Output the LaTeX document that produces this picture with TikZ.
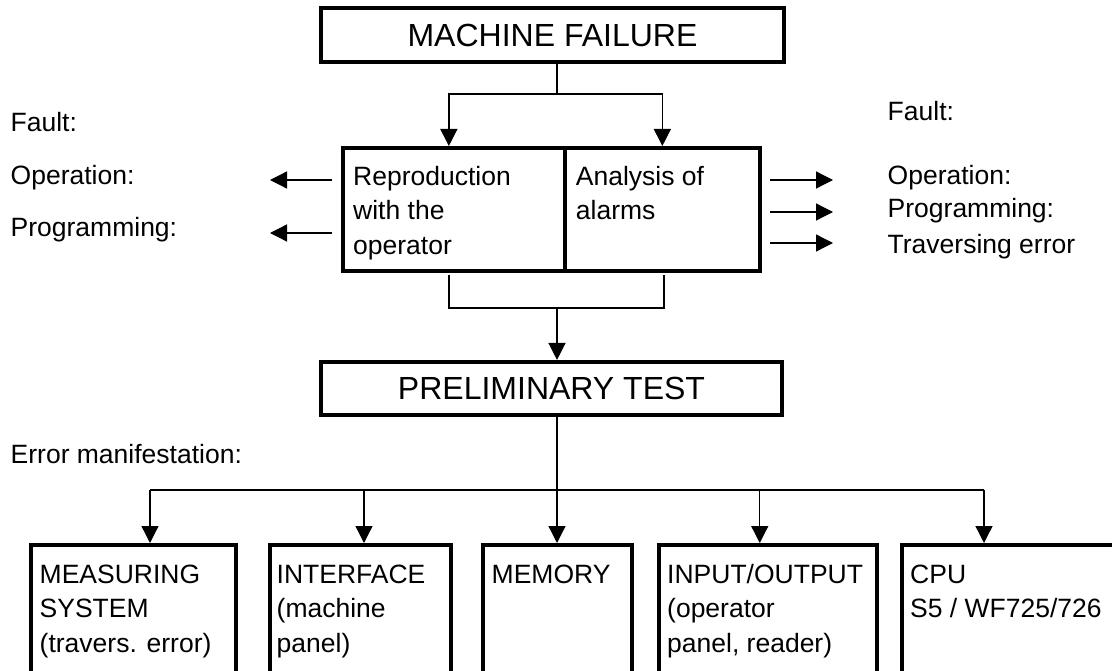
\documentclass[tikz,border=0pt]{standalone}
\usepackage{fontspec}
\setmainfont{Liberation Sans}
\usetikzlibrary{arrows.meta,positioning}
\tikzset{
  heading/.style={draw, line width=4pt, minimum width=463pt, minimum height=54pt, inner sep=0pt, font=\fontsize{32}{38}\selectfont},
  frame/.style={draw, line width=4pt, inner sep=0pt},
  boxtext/.style={anchor=north west, align=left, inner sep=0pt, font=\fontsize{26.5}{34.5}\selectfont},
  note/.style={anchor=base west, inner sep=0pt, font=\fontsize{26.5}{34.5}\selectfont},
  link/.style={line width=1.3pt},
  arrow/.style={link, -{Triangle[length=17pt, width=17pt]}}
}
\newcommand{\capstrut}{\rule{0pt}{20pt}}

\begin{document}
\begin{tikzpicture}[x=1pt, y=-1pt]
\useasboundingbox (0,0) rectangle (1112,671);
\clip (0,0) rectangle (1112,671);
\node[heading] (fail) at (552.5,35) {MACHINE FAILURE};
\node[frame, minimum width=221.7pt, minimum height=123.3pt] (repro) at (453.85,209.65) {};
\node[frame, minimum width=195.3pt, minimum height=123.3pt, right=-4pt of repro] (alarms) {};
\node[boxtext] (reprotext) at ([xshift=12pt, yshift=-19pt]repro.north west) {\capstrut Reproduction\\with the\\operator};
\node[boxtext] (alarmstext) at ([xshift=13pt, yshift=-19pt]alarms.north west) {\capstrut Analysis of\\alarms};
\node[heading, minimum width=461pt, minimum height=53.5pt] (prelim) at (551.5,388.7) {PRELIMINARY TEST};
\foreach \n/\x/\w in {measure/133/205, iface/360/181, memory/557/149, inout/767.75/217.5, cpu/1016/228}
  \node[frame, minimum width=\w pt, minimum height=155pt] (\n) at (\x,622.5) {};
\node[boxtext] (measuretext) at ([xshift=11pt, yshift=-20pt]measure.north west) {\capstrut MEASURING\\SYSTEM\\(travers. error)};
\node[boxtext] (ifacetext) at ([xshift=9pt, yshift=-20pt]iface.north west) {\capstrut INTERFACE\\(machine\\panel)};
\node[boxtext] (memorytext) at ([xshift=11pt, yshift=-20pt]memory.north west) {\capstrut MEMORY};
\node[boxtext] (inouttext) at ([xshift=10pt, yshift=-20pt]inout.north west) {\capstrut INPUT/OUTPUT\\(operator\\panel, reader)};
\node[boxtext] (cputext) at ([xshift=10pt, yshift=-20pt]cpu.north west) {\capstrut CPU\\S5 / WF725/726};
\node[note] (faultL) at (10.5,132) {Fault:};
\node[note] (operL) at (10.5,185) {Operation:};
\node[note] (progL) at (10.5,237) {Programming:};
\node[note] (faultR) at (887.5,121) {Fault:};
\node[note] (operR) at (887.5,185) {Operation:};
\node[note] (progR) at (887.5,218) {Programming:};
\node[note] (travR) at (887.5,254) {Traversing error};
\node[note] (errors) at (10.5,463) {Error manifestation:};
\coordinate (split) at (557,94);
\coordinate (join) at (557,308);
\coordinate (bus) at (557,490);
\coordinate (operEnd) at (270,180);
\coordinate (progEnd) at (270,233);
\coordinate (operTip) at (833,180);
\coordinate (progTip) at (833,212);
\coordinate (travTip) at (833,243);
\draw[link] (fail.south -| split) -- (split);
\draw[arrow] (split) -| ([xshift=-5pt]repro.north);
\draw[arrow] (split) -| (alarms.north);
\foreach \e in {operEnd,progEnd} \draw[arrow] ([xshift=-9pt]repro.west |- \e) -- (\e);
\foreach \e in {operTip,progTip,travTip} \draw[arrow] ([xshift=8pt]alarms.east |- \e) -- (\e);
\draw[link] ([xshift=-5pt, yshift=-2pt]repro.south) |- (join) -| ([xshift=1.5pt, yshift=-2pt]alarms.south);
\draw[arrow] (join) -- (join |- prelim.north);
\draw[arrow] (prelim.south -| memory.north) -- (memory.north);
\draw[link] ([xshift=17pt]measure.north |- bus) -- ([xshift=-32pt]cpu.north |- bus);
\foreach \n/\dx in {measure/17, iface/4, inout/-8, cpu/-32} \draw[arrow] ([xshift=\dx pt]\n.north |- bus) -- ([xshift=\dx pt]\n.north);
\end{tikzpicture}
\end{document}
